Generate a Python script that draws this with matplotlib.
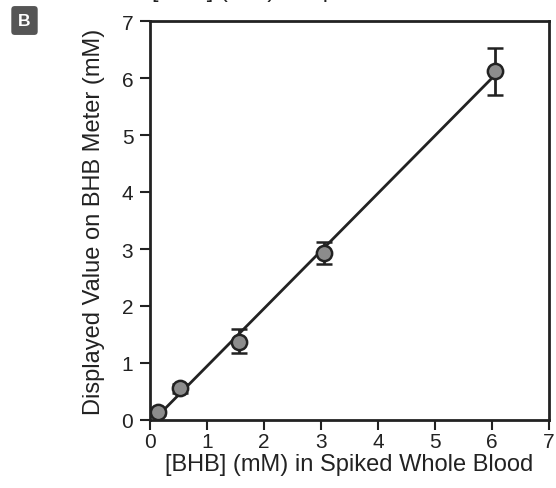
import numpy as np
import matplotlib
matplotlib.use("Agg")
import matplotlib.pyplot as plt

plt.rcParams['font.family'] = ['Liberation Sans', 'DejaVu Sans']

# Spiked BHB concentration vs meter reading
bhb_spiked = [0.14, 0.53, 1.56, 3.05, 6.05]
meter_value = [0.14, 0.56, 1.37, 2.93, 6.12]
err_low = [0.05, 0.08, 0.20, 0.20, 0.42]
err_high = [0.05, 0.08, 0.22, 0.20, 0.40]
ticks = [0, 1, 2, 3, 4, 5, 6, 7]

fig = plt.figure(figsize=(5.56, 4.89), dpi=100)
ax = fig.add_axes([150 / 556, 68 / 489, 399 / 556, 399 / 489])

# linear fit line through the points
pendiente, corte = np.polyfit(bhb_spiked, meter_value, 1)
xs = np.array([bhb_spiked[0], bhb_spiked[-1]])
ax.plot(xs, pendiente * xs + corte, color='#222222', lw=2, zorder=2)

ax.errorbar(bhb_spiked, meter_value, yerr=[err_low, err_high], fmt='o',
            color='#222222', ecolor='#222222', elinewidth=2, capsize=6,
            capthick=2, markersize=11, markerfacecolor='#8c8c8c',
            markeredgecolor='#222222', markeredgewidth=1.8, zorder=3)

ax.set_xlim(0, 7)
ax.set_ylim(0, 7)
ax.set_xticks(ticks)
ax.set_yticks(ticks)
ax.tick_params(direction='out', length=7, width=1.5, labelsize=15,
               colors='#222222', pad=2)
ax.tick_params(axis='y', pad=5)
for s in ax.spines.values():
    s.set_linewidth(2)
    s.set_color('#222222')

ax.set_xlabel("[BHB] (mM) in Spiked Whole Blood", fontsize=17,
              color='#222222', labelpad=1)
ax.set_ylabel("Displayed Value on BHB Meter (mM)", fontsize=17,
              color='#222222', labelpad=12)

# leftover text cut at the top of the panel
fig.text(152 / 556, 1.0 + 9 / 489, "[BHB] (mM) in Spiked Whole Blood",
         fontsize=17, color='#222222', ha='left', va='center')

# panel letter
fig.text(24.5 / 556, 1 - 21.5 / 489, "B", fontsize=12.5, fontweight='bold',
         color='white', ha='center', va='center',
         bbox=dict(boxstyle='round,pad=0.4,rounding_size=0.2',
                   facecolor='#555555', edgecolor='none'))

fig.savefig("out.png", dpi=100)
